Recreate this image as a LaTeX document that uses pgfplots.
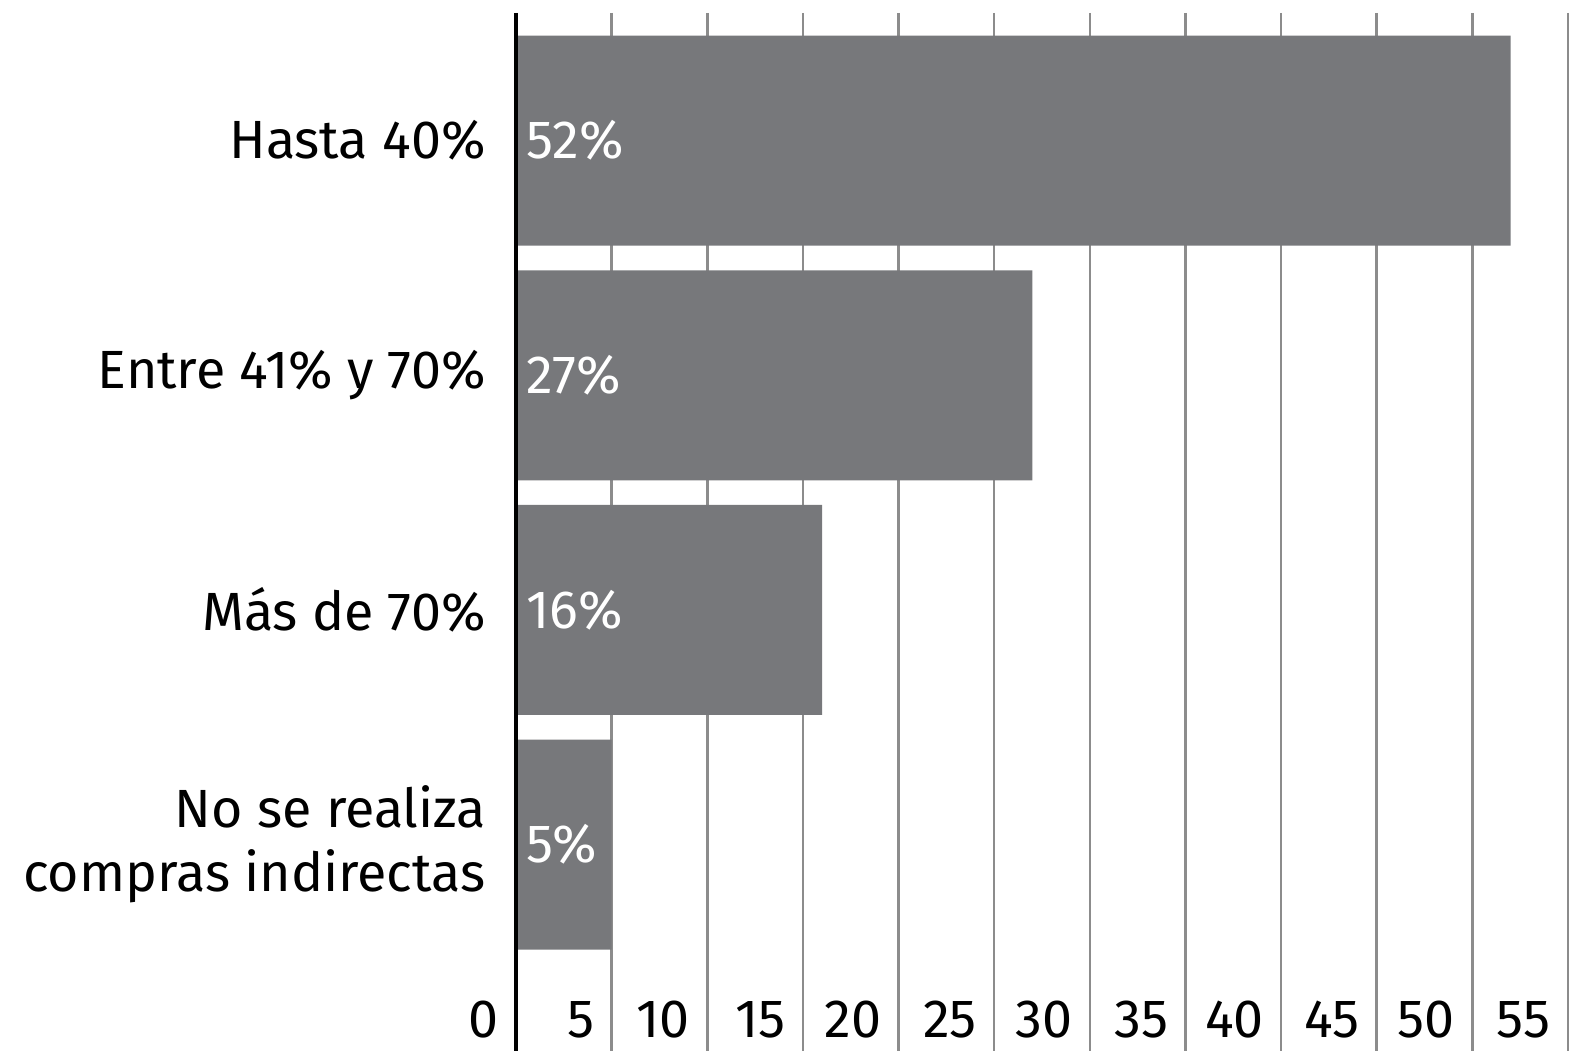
\documentclass[border=0pt]{standalone}
\usepackage{fontspec}
\setmainfont{Fira Sans}
\usepackage{pgfplots}
\usepackage{pgfplotstable}
\pgfplotsset{compat=1.18}
\definecolor{barcol}{RGB}{119,120,123}
\definecolor{gridcol}{RGB}{140,140,140}

\pgfplotstableread{
cat val
0 52
1 27
2 16
3 5
}\datatable

\begin{document}
\begin{tikzpicture}
\begin{axis}[
    scale only axis,
    width=526bp, height=519bp,
    xmin=0, xmax=55,
    ymin=-0.544, ymax=3.88,
    y dir=reverse,
    axis x line*=bottom,
    axis y line*=left,
    x axis line style={draw=none},
    y axis line style={draw=none},
    xtick={0,5,...,55},
    xticklabels={},
    ytick={0,1,2,3},
    yticklabels={Hasta 40\%, Entre 41\% y 70\%, Más de 70\%, {No se realiza\\compras indirectas}},
    major tick length=0pt,
    xmajorgrids,
    major grid style={gridcol, line width=1.3bp},
    /pgf/number format/assume math mode=true,
    tick label style={font=\fontsize{27}{32}\selectfont, inner sep=0pt},
    yticklabel style={align=right, anchor=east, xshift=-15bp},
    clip=false,
]
\addplot[xbar, fill=barcol, draw=none, bar width=0.895] table[x=val, y=cat] {\datatable};
\addplot[only marks, mark=none, point meta=explicit,
    nodes near coords={\pgfmathprintnumber{\pgfplotspointmeta}\%},
    every node near coord/.append style={anchor=west, inner sep=0pt, xshift=5bp, white,
        font=\fontsize{27}{32}\selectfont}]
    table[x expr=0, y=cat, meta=val] {\datatable};
\draw[black, line width=2.4bp] (axis cs:0,-0.544) -- (axis cs:0,3.88);
\pgfplotsinvokeforeach{0,5,...,55}{
  \node[anchor=base east, inner sep=0pt, font=\fontsize{27}{32}\selectfont]
    at ([xshift=-8.5bp, yshift=7bp]axis cs:#1,3.88) {#1};
}
\coordinate (bl) at (rel axis cs:0,0);
\end{axis}
\pgfresetboundingbox
\path (bl) ++(-258bp,0) rectangle ++(793bp,525.5bp);
\end{tikzpicture}
\end{document}
